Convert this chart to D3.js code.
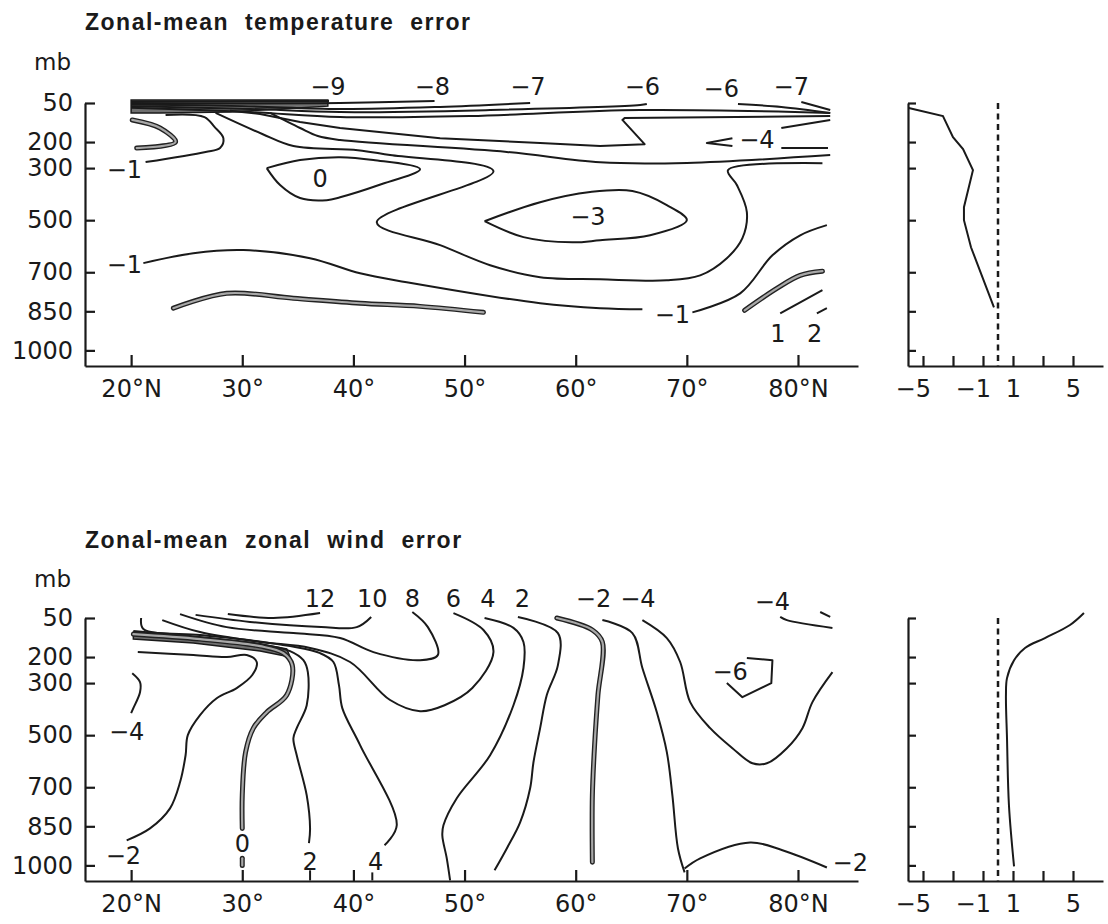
<!DOCTYPE html>
<html>
<head>
<meta charset="utf-8">
<script src="https://cdn.jsdelivr.net/npm/d3@7"></script>
<style>
  body { margin: 0; background: #fff; }
  svg { display: block; }
</style>
</head>
<body>
<script>
// ---- axis values ----
var pLevels = [50, 200, 300, 500, 700, 850, 1000];
var latTicks = [20, 30, 40, 50, 60, 70, 80];
var latLabels = ["20°N", "30°", "40°", "50°", "60°", "70°", "80°N"];
var profTicks = [-5, -3, -1, 1, 3, 5];
var profLabels = ["−5", "", "−1", "1", "", "5"];

// ---- temperature error contours, [lat, mb] ----
var tBand = [[20,38],[37.7,38],[37.7,62],[33.4,73],[28.9,85],[22.6,88],[20,88]];
var tM9 = [[20,44],[28,44],[37.8,42]];
var tM8 = [[20,50],[30,52],[38.8,50],[47.3,42]];
var tM7 = [[20,56],[30,62],[38.8,73],[47.8,65],[55.9,50]];
var tM6a = [[20,62],[30.7,73],[38.8,85],[52.3,77],[65.8,58],[66.4,54]];
var tM5 = [[20,68],[30.7,85],[38.8,104],[50.5,100],[65.8,77],[82.9,88]];
var tM6b = [[74.6,54],[78.5,65],[82.9,88]];
var tM7b = [[80.3,46],[82.9,77]];
var tZ = [[82.9,100],[64.4,108],[64.2,115],[66.2,208],[62.2,215],[56.8,204],[47.8,185],[38.8,146],[35.2,123],[31.6,92],[28.9,80]];
var tA = [[32.5,88],[35.2,146],[36.8,177],[38.8,192],[53.8,238],[62.2,278],[70,280],[82.9,250]];
var tB = [[27.6,88],[31.8,169],[34.6,215],[40.4,231],[43.3,250],[52.6,312],[42.1,508],[47.8,596],[52.3,673],[56.8,719],[62.2,727],[68.2,731],[71.2,712],[73.6,646],[75.0,569],[75.4,469],[74.5,365],[73.7,308],[82.2,281]];
var tM1a = [[23.1,96],[26.6,104],[27.5,142],[28.3,185],[28.0,223],[26.7,238],[21.3,277]];
var tHeavyL = [[20.1,115],[22.6,146],[24.0,200],[20.5,223]];
var tZero = [[32.2,300],[35.2,269],[38.8,258],[41.8,269],[46.0,304],[42.3,365],[38.8,412],[37.6,423],[35.2,415],[33.4,365],[32.2,300]];
var tM3 = [[51.8,504],[56.8,431],[61.3,392],[65.1,388],[68.2,442],[70.0,500],[66.7,558],[62.2,577],[59.7,585],[55.3,565],[51.8,504]];
var tM4a = [[82.9,115],[78.5,146]];
var tM4b = [[74.1,185],[71.8,204],[74.1,215]];
var tM4c = [[78.5,223],[82.7,223]];
var tM1b = [[21.1,665],[25.6,627],[30.1,615],[36.1,646],[40.6,704],[44.8,738],[56.8,819],[62.2,838],[66.0,842]];
var tM1c = [[70.5,854],[74.8,781],[77.7,635],[80.2,558],[82.6,519]];
var tHeavyLow = [[23.8,838],[28.6,781],[34.6,800],[40.6,819],[46.0,831],[51.7,854]];
var tHeavyR = [[75.2,846],[78.1,762],[80.2,712],[82.2,696]];
var tOne = [[78.4,858],[82.2,769]];
var tTwo = [[81.7,858],[82.6,838]];
var tLabels = [["−9",37.7,-15],["−8",47.1,-15],["−7",55.7,-15],["−6",66.0,-12],["−6",73.1,-8],["−7",79.4,-12],
  ["−4",76.3,188],["0",37.0,338],["−3",61.1,485],["−1",19.4,304],["−1",19.4,669],["−1",68.7,862],["1",78.2,935],["2",81.5,935]];

// temperature profile (right box)
var tProfP = [69, 100, 181, 227, 308, 450, 500, 604, 835];
var tProfV = [-5.95, -3.67, -3.0, -2.33, -1.67, -2.27, -2.27, -1.8, -0.27];

// ---- zonal wind error contours, [lat, mb] ----
var uBand = [[20.2,104],[25.6,123],[31.6,150],[34.0,169],[34.3,200],[31.6,177],[25.6,146],[20.2,131]];
var u12 = [[28.7,35],[32.8,50],[37.0,31]];
var u10 = [[25.8,38],[30.7,65],[37.1,85],[40.3,85],[41.6,46]];
var u8 = [[24.4,35],[28.6,85],[34.6,108],[38.8,127],[41.8,181],[46.0,212],[47.6,192],[46.7,85],[45.3,27]];
var u6 = [[22.8,58],[26.2,104],[31.6,142],[36.1,165],[39.7,219],[43.3,365],[46.0,408],[48.2,385],[50.7,319],[52.6,181],[51.7,96],[49.0,31]];
var u4a = [[51.8,50],[54.4,88],[55.3,142],[55.3,242],[54.4,385],[52.3,577],[49.3,742],[48.1,846],[48.0,885],[48.4,973],[48.7,1058]];
var u2a = [[54.8,46],[58.4,108],[58.4,231],[57.4,346],[56.8,473],[56.2,604],[55.9,704],[55.0,835],[53.8,935],[52.7,1019]];
var uZeroR = [[58.3,50],[61.5,96],[62.4,142],[62.0,346],[61.7,538],[61.5,731],[61.5,988]];
var uM2a = [[62.4,58],[65.1,108],[66.0,242],[67.3,412],[68.2,565],[68.7,731],[69.2,935],[69.8,1027]];
var uM4a = [[66.0,58],[68.2,127],[69.4,219],[70.3,373],[72.1,473],[74.1,550],[75.9,608],[77.2,608],[79.0,550],[80.4,473],[81.3,373],[83.1,258]];
var uM4b = [[78.4,46],[79.0,58],[83.1,88]];
var uM4dash = [[82.0,27],[82.9,46]];
var uM6 = [[75.4,204],[77.7,212],[77.6,300],[75.0,354],[73.6,300]];
var uM2b = [[69.8,1012],[71.2,973],[75.7,912],[78.6,942],[82.6,1008]];
var u4b = [[20.9,50],[21.1,92],[26.2,115],[30.7,135],[34.3,158],[37.0,185],[38.2,219],[38.7,308],[39.0,396],[40.6,538],[43.9,846],[42.8,923]];
var u4bTail = [[41.7,1027],[41.7,1058]];
var u2b = [[20.2,100],[26.2,123],[31.6,150],[34.3,177],[35.5,212],[35.9,258],[35.8,385],[34.9,473],[34.6,512],[34.9,577],[35.8,731],[36.1,858],[36.0,915]];
var u2bTail = [[36.1,1019],[36.1,1058]];
var uZeroL = [[20.2,112],[26.2,131],[31.6,158],[33.7,185],[34.5,231],[34.0,346],[32.2,412],[31.0,473],[30.3,565],[30.0,731],[30.0,858]];
var uZeroTail = [[30.0,973],[30.0,1000]];
var uM2c = [[20.6,181],[25.6,192],[28.6,200],[30.4,192],[31.3,219],[30.9,269],[29.5,319],[27.7,358],[26.2,423],[25.1,500],[24.9,577],[24.4,681],[23.5,781],[21.7,858],[19.6,904]];
var uM4c = [[20.1,262],[20.8,296],[20.8,335],[20.2,396],[20.0,415]];
var uLabels = [["12",37.0,-27],["10",41.7,-27],["8",45.3,-27],["6",49.0,-27],["4",52.1,-27],["2",55.2,-27],["−2",61.6,-27],["−4",65.6,-27],
  ["−4",77.7,-15],["−6",73.9,254],["−4",19.6,485],["−2",19.3,962],["0",30.0,915],["2",36.1,985],["4",42.0,985],["−2",84.7,988]];

// wind profile (right box)
var uProfP = [31, 77, 127, 165, 212, 281, 346, 512, 769, 1004];
var uProfV = [5.73, 4.8, 3.13, 1.8, 1.07, 0.6, 0.53, 0.6, 0.73, 1.07];

// ---- drawing ----
var ink = "#1a1a1a";
var svg = d3.select("body").append("svg").attr("width", 1108).attr("height", 924);

var x = d3.scaleLinear().domain([15.85, 85.4]).range([85, 858]);
var sx = d3.scaleLinear().domain([-6, 7]).range([908, 1103]);
var yTop = d3.scaleLinear().domain([50, 1060]).range([103, 366]);
var yBot = d3.scaleLinear().domain([50, 1060]).range([618, 881]);

var smooth = d3.curveCatmullRom.alpha(0.5);

function panel(y, title, titleY, mbY, contours, band, labels, profP, profV, profCurve) {
	var g = svg.append("g");

	g.append("text")
	  .attr("x", 85).attr("y", titleY)
	  .style("font", "bold 23px 'Liberation Sans', Arial, sans-serif")
	  .style("letter-spacing", "1.5px")
	  .style("word-spacing", "8px")
	  .style("fill", ink)
	  .text(title);

	g.append("text")
	  .attr("x", 71).attr("y", mbY)
	  .attr("text-anchor", "end")
	  .style("font", "23px 'DejaVu Sans', sans-serif")
	  .style("fill", ink)
	  .text("mb");

	// band of crowded contours
	g.append("path")
	  .datum(band)
	  .attr("d", d3.line().x(function(d) { return x(d[0]); }).y(function(d) { return y(d[1]); }).curve(d3.curveLinearClosed))
	  .style("fill", "#707070")
	  .style("stroke", ink)
	  .style("stroke-width", 1.5);

	contours.forEach(function(c) {
		var line = d3.line()
		  .x(function(d) { return x(d[0]); })
		  .y(function(d) { return y(d[1]); })
		  .curve(c.sharp ? d3.curveLinear : smooth);
		if (c.heavy) {
			g.append("path").attr("d", line(c.pts))
			  .style("fill", "none").style("stroke", "#222").style("stroke-width", 5)
			  .style("stroke-linecap", "round").style("stroke-linejoin", "round");
			g.append("path").attr("d", line(c.pts))
			  .style("fill", "none").style("stroke", "#a8a8a8").style("stroke-width", 2.2)
			  .style("stroke-linecap", "round").style("stroke-linejoin", "round");
		} else {
			g.append("path").attr("d", line(c.pts))
			  .style("fill", "none").style("stroke", ink).style("stroke-width", 2)
			  .style("stroke-linejoin", "round");
		}
	});

	labels.forEach(function(l) {
		g.append("text")
		  .attr("x", x(l[1])).attr("y", y(l[2]))
		  .attr("dy", "0.36em")
		  .attr("text-anchor", "middle")
		  .style("font", "24px 'DejaVu Sans', sans-serif")
		  .style("fill", ink)
		  .text(l[0]);
	});

	// main axes
	var ax = g.append("g")
	  .attr("transform", "translate(0," + y(1060) + ")")
	  .call(d3.axisBottom(x).tickValues(latTicks)
	    .tickFormat(function(d, i) { return latLabels[i]; })
	    .tickSize(-11).tickSizeOuter(0).tickPadding(14));
	var ay = g.append("g")
	  .attr("transform", "translate(" + x.range()[0] + ",0)")
	  .call(d3.axisLeft(y).tickValues(pLevels).tickFormat(d3.format("d"))
	    .tickSize(-10).tickSizeOuter(0).tickPadding(12));

	// profile box axes
	var px = g.append("g")
	  .attr("transform", "translate(0," + y(1060) + ")")
	  .call(d3.axisBottom(sx).tickValues(profTicks)
	    .tickFormat(function(d, i) { return profLabels[i]; })
	    .tickSize(-10).tickSizeOuter(0).tickPadding(14));
	px.selectAll(".tick text")
	  .filter(function(d) { return d < 0; })
	  .attr("text-anchor", "end").attr("dx", 7.5);
	var py = g.append("g")
	  .attr("transform", "translate(" + sx.range()[0] + ",0)")
	  .call(d3.axisLeft(y).tickValues(pLevels).tickSize(-8).tickSizeOuter(0).tickFormat(""));

	[ax, ay, px, py].forEach(function(a) {
		a.attr("font-family", "'DejaVu Sans', sans-serif").attr("font-size", 24);
		a.selectAll("path, line").attr("stroke", ink).attr("stroke-width", 2.2);
		a.selectAll("text").attr("fill", ink);
	});

	// zero line
	g.append("line")
	  .attr("x1", sx(0)).attr("x2", sx(0))
	  .attr("y1", y(50)).attr("y2", y(1060))
	  .style("stroke", ink).style("stroke-width", 2.5)
	  .style("stroke-dasharray", "6,4.5");

	var prof = d3.zip(profV, profP);
	g.append("path")
	  .datum(prof)
	  .attr("d", d3.line().x(function(d) { return sx(d[0]); }).y(function(d) { return y(d[1]); }).curve(profCurve))
	  .style("fill", "none").style("stroke", ink).style("stroke-width", 2);
}

var tempContours = [
	{pts: tM9}, {pts: tM8}, {pts: tM7}, {pts: tM6a}, {pts: tM5}, {pts: tM6b}, {pts: tM7b},
	{pts: tZ, sharp: true}, {pts: tA}, {pts: tB}, {pts: tM1a},
	{pts: tHeavyL, heavy: true}, {pts: tZero}, {pts: tM3},
	{pts: tM4a}, {pts: tM4b, sharp: true}, {pts: tM4c},
	{pts: tM1b}, {pts: tM1c}, {pts: tHeavyLow, heavy: true}, {pts: tHeavyR, heavy: true},
	{pts: tOne}, {pts: tTwo}
];

var windContours = [
	{pts: u12}, {pts: u10}, {pts: u8}, {pts: u6}, {pts: u4a}, {pts: u2a},
	{pts: uZeroR, heavy: true}, {pts: uM2a}, {pts: uM4a}, {pts: uM4b}, {pts: uM4dash},
	{pts: uM6, sharp: true}, {pts: uM2b},
	{pts: u4b}, {pts: u4bTail}, {pts: u2b}, {pts: u2bTail},
	{pts: uZeroL, heavy: true}, {pts: uZeroTail, heavy: true},
	{pts: uM2c}, {pts: uM4c}
];

panel(yTop, "Zonal-mean temperature error", 30, 70,
	tempContours, tBand, tLabels, tProfP, tProfV, d3.curveLinear);
panel(yBot, "Zonal-mean zonal wind error", 548, 587,
	windContours, uBand, uLabels, uProfP, uProfV, smooth);
</script>
</body>
</html>
